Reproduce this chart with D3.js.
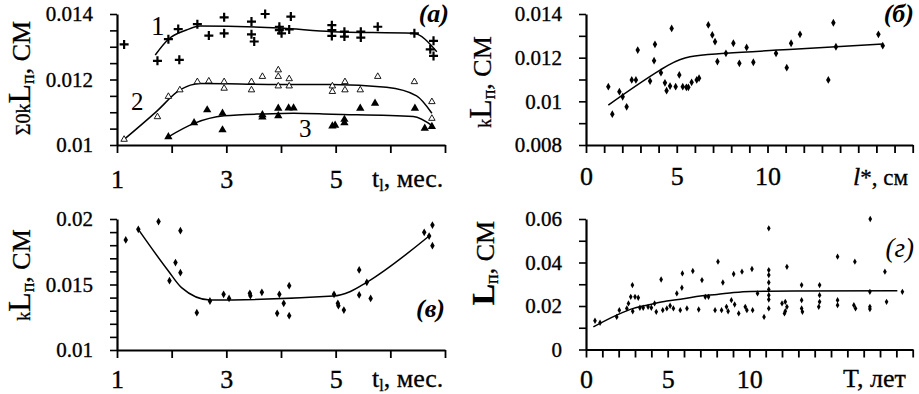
<!DOCTYPE html>
<html><head><meta charset="utf-8">
<script src="https://cdn.jsdelivr.net/npm/d3@7"></script>
<style>
body{margin:0;background:#fff}
svg text{font-family:"Liberation Serif","Times New Roman",serif;fill:#000}
</style>
</head><body>
<svg id="c" width="919" height="394"></svg>
<script>
// ---------- DATA ----------
// Panel (а): three series vs t_l (months)
const aSeries1 = [[1.13,0.01307],[1.74,0.01257],[1.94,0.01323],[2.14,0.01260],[2.12,0.01354],[2.47,0.01369],[2.68,0.01334],[2.96,0.01390],[2.96,0.01341],[3.46,0.01377],[3.46,0.01338],[3.51,0.01316],[3.71,0.01400],[3.97,0.01361],[3.97,0.01351],[4.01,0.01341],[4.18,0.01392],[4.15,0.01353],[4.93,0.01366],[4.93,0.01351],[4.93,0.01333],[5.16,0.01346],[5.16,0.01331],[5.46,0.01346],[5.46,0.01328],[5.77,0.01361],[6.44,0.01341],[6.79,0.01318],[6.73,0.01292],[6.79,0.01272]];
const aFit1 = [[1.70,0.01275],[1.94,0.01323],[2.27,0.01351],[2.52,0.01363],[3.97,0.01357],[4.93,0.01346],[6.42,0.01341],[6.85,0.01285]];
const aSeries2 = [[1.13,0.01017],[1.74,0.01086],[1.94,0.01148],[2.15,0.01168],[2.47,0.01193],[2.68,0.01195],[2.96,0.01193],[2.96,0.01173],[3.46,0.01193],[3.46,0.01168],[3.66,0.01209],[3.95,0.01229],[3.95,0.01209],[3.95,0.01180],[4.15,0.01202],[4.15,0.01180],[4.94,0.01180],[4.94,0.01163],[5.17,0.01193],[5.17,0.01168],[5.45,0.01168],[5.77,0.01209],[6.44,0.01193],[6.76,0.01132],[6.76,0.01081]];
const aFit2 = [[1.13,0.01017],[1.72,0.01102],[2.15,0.01168],[2.52,0.01188],[3.97,0.01185],[4.93,0.01185],[5.93,0.01176],[6.48,0.01150],[6.76,0.01097]];
const aSeries3 = [[1.94,0.01025],[2.41,0.01068],[2.65,0.01107],[2.93,0.01046],[2.93,0.01097],[3.66,0.01092],[3.66,0.01085],[3.95,0.01112],[3.95,0.01089],[4.14,0.01113],[4.23,0.01113],[4.94,0.01058],[4.99,0.01060],[5.16,0.01078],[5.16,0.01068],[5.45,0.01112],[5.72,0.01127],[6.45,0.01112],[6.63,0.01051],[6.76,0.01056]];
const aFit3 = [[1.94,0.01025],[2.41,0.01066],[2.96,0.01089],[3.69,0.01095],[4.23,0.01097],[4.93,0.01094],[6.42,0.01087],[6.79,0.01056]];

// Panel (б): kL_п vs l*
const bPoints = [[1.23,0.01067],[1.45,0.00941],[1.84,0.01044],[2.02,0.01021],[2.24,0.00975],[2.52,0.01098],[2.75,0.01098],[2.85,0.01235],[3.53,0.01093],[3.80,0.01261],[3.75,0.01186],[4.13,0.01131],[4.35,0.01085],[4.44,0.01049],[4.63,0.01070],[4.72,0.01334],[4.94,0.01067],[5.14,0.01121],[5.33,0.01067],[5.53,0.01064],[5.64,0.01064],[5.82,0.01087],[6.10,0.01098],[6.23,0.01106],[6.74,0.01350],[6.96,0.01304],[7.11,0.01273],[7.24,0.01182],[7.71,0.01220],[8.12,0.01266],[8.45,0.01174],[8.85,0.01247],[9.22,0.01179],[10.47,0.01220],[11.06,0.01154],[11.30,0.01266],[11.79,0.01307],[13.35,0.01098],[13.63,0.01360],[13.77,0.01250],[16.11,0.01307],[16.35,0.01255]];
const bFit = [[1.23,0.00983],[4.08,0.01143],[4.54,0.01166],[5.73,0.01204],[7.71,0.01220],[11.42,0.01238],[16.35,0.01263]];

// Panel (в): kL_п vs t_l
const cPoints = [[1.16,0.01840],[1.39,0.01921],[1.76,0.01980],[1.96,0.01529],[2.07,0.01667],[2.16,0.01911],[2.16,0.01590],[2.46,0.01285],[2.70,0.01374],[2.95,0.01425],[3.05,0.01394],[3.43,0.01433],[3.44,0.01415],[3.65,0.01440],[3.97,0.01425],[3.93,0.01280],[4.05,0.01356],[4.15,0.01491],[4.15,0.01262],[4.97,0.01425],[5.04,0.01356],[5.05,0.01338],[5.15,0.01305],[5.43,0.01611],[5.43,0.01420],[5.57,0.01517],[5.64,0.01394],[6.62,0.01898],[6.71,0.01870],[6.77,0.01954],[6.77,0.01796]];
const cFit = [[1.39,0.01921],[1.94,0.01603],[2.18,0.01476],[2.70,0.01382],[4.96,0.01412],[5.26,0.01445],[5.57,0.01517],[6.71,0.01870]];

// Panel (г): L_п vs T
const dPoints = [[0.55,0.0132],[0.86,0.0123],[1.88,0.0150],[2.04,0.0181],[2.5,0.0189],[2.6,0.0212],[2.74,0.0242],[2.84,0.0296],[2.86,0.0176],[3.0,0.0242],[3.2,0.0238],[3.3,0.0192],[3.5,0.0192],[3.8,0.0196],[4.0,0.0192],[4.2,0.0212],[4.3,0.0173],[4.6,0.0322],[4.7,0.0181],[4.95,0.0189],[5.15,0.0201],[5.35,0.0189],[5.56,0.0258],[5.77,0.0181],[5.87,0.0284],[5.9,0.0350],[6.18,0.0189],[6.54,0.0361],[6.9,0.0184],[7.1,0.0319],[7.3,0.0242],[7.5,0.0242],[7.9,0.0181],[8.08,0.0404],[8.3,0.0181],[8.38,0.0308],[8.6,0.0196],[8.7,0.0176],[9.04,0.0347],[8.9,0.0227],[9.1,0.0207],[9.35,0.0166],[9.55,0.0358],[9.75,0.0196],[9.85,0.0181],[10.16,0.0370],[10.2,0.0181],[10.5,0.0258],[10.9,0.0150],[11.19,0.0557],[11.19,0.0365],[11.19,0.0342],[11.19,0.0308],[11.19,0.0276],[11.19,0.0250],[11.19,0.0230],[11.19,0.0189],[12.3,0.0380],[12.0,0.0212],[12.2,0.0219],[12.3,0.0196],[12.2,0.0176],[12.15,0.0166],[13.2,0.0296],[13.2,0.0227],[13.2,0.0189],[13.25,0.0173],[14.3,0.0296],[14.3,0.0250],[14.3,0.0219],[14.25,0.0196],[15.4,0.0427],[15.4,0.0227],[15.4,0.0204],[16.46,0.0404],[16.4,0.0204],[16.5,0.0189],[17.4,0.0600],[17.38,0.0265],[17.38,0.0196],[17.38,0.0186],[18.3,0.0358],[18.4,0.0219],[19.37,0.0265]];
const dFit = [[0.45,0.0104],[1.88,0.0158],[2.9,0.0189],[3.93,0.0207],[4.95,0.0223],[5.97,0.0233],[7.0,0.0246],[8.02,0.0253],[9.04,0.0262],[10.06,0.0267],[12.7,0.0269],[19.06,0.0270]];

// tick values
const tMonthsTicks = [1,2,3,4,5,6,7];
const tMonthsLabels = [1,3,5];
const aYLabels = [0.010,0.012,0.014];
const bXTicks = d3.range(0,19);
const bXLabels = [0,5,10];
const bYTicks = [0.008,0.009,0.010,0.011,0.012,0.013,0.014];
const bYLabels = [0.008,0.010,0.012,0.014];
const cYLabels = [0.010,0.015,0.020];
const dXTicks = d3.range(0,21);
const dXLabels = [0,5,10];
const dYTicks = [0,0.01,0.02,0.03,0.04,0.05,0.06];
const dYLabels = [0,0.02,0.04,0.06];

// ---------- DRAWING ----------
const SERIF = '"Liberation Serif","Times New Roman",serif';
const svg = d3.select("#c");
const fmtY = v => v===0 ? "0" : String(+v.toFixed(4));

function axes(x, y, o) {
  const g = svg.append("g");
  const yAx = d3.axisLeft(y).tickValues(o.yTicks).tickSize(7).tickSizeOuter(0)
    .tickFormat(v => o.yLabels.some(l=>Math.abs(l-v)<1e-9) ? fmtY(v) : "");
  const gy = g.append("g").attr("transform",`translate(${x.range()[0]},0)`).call(yAx);
  gy.attr("font-family",SERIF);
  gy.select(".domain").attr("stroke-width",2.2);
  gy.selectAll(".tick line").attr("stroke-width",1.6);
  gy.selectAll(".tick text").attr("x",-o.yLabelGap).attr("font-size",21)
    .attr("stroke","#000").attr("stroke-width",0.35);
  const xAx = d3.axisBottom(x).tickValues(o.xTicks).tickSize(8).tickSizeOuter(0)
    .tickFormat(v => o.xLabels.includes(v) ? String(v) : "");
  const gx = g.append("g").attr("transform",`translate(0,${y.range()[0]})`).call(xAx);
  gx.attr("font-family",SERIF);
  gx.select(".domain").attr("stroke-width",2.2);
  gx.selectAll(".tick line").attr("stroke-width",1.8);
  gx.selectAll(".tick text").attr("y",o.xLabelGap).attr("dy","0").attr("font-size",26)
    .attr("stroke","#000").attr("stroke-width",0.35);
  g.selectAll("path.domain").attr("stroke","#000");
}

function fit(x, y, data) {
  svg.append("path").datum(data)
    .attr("fill","none").attr("stroke","#000").attr("stroke-width",1.5)
    .attr("d", d3.line().x(d=>x(d[0])).y(d=>y(d[1])).curve(d3.curveMonotoneX));
}
function dots(x, y, data, r) {
  svg.append("g").selectAll("path").data(data).join("path")
    .attr("transform", d=>`translate(${x(d[0])},${y(d[1])})`)
    .attr("d", d3.symbol(d3.symbolDiamond, r*r*2.4))
    .attr("fill","#000");
}
function label(xp, yp, txt, size, bold, italic, anchor) {
  svg.append("text").attr("x",xp).attr("y",yp).attr("font-size",size)
    .attr("text-anchor",anchor||"start")
    .attr("font-weight",bold?"bold":null).attr("font-style",italic?"italic":null).text(txt);
}

// Panel а
{
  const x = d3.scaleLinear().domain([1,7]).range([117,445]);
  const y = d3.scaleLinear().domain([0.010,0.014]).range([145,14]);
  axes(x,y,{yTicks:d3.range(0,9).map(i=>+(0.010+i*0.0005).toFixed(4)), yLabels:aYLabels, yLabelGap:24,
            xTicks:tMonthsTicks, xLabels:tMonthsLabels, xLabelGap:43});
  fit(x,y,aFit1); fit(x,y,aFit2); fit(x,y,aFit3);
  svg.append("g").selectAll("path").data(aSeries1).join("path")
    .attr("d", d=>{const cx=x(d[0]), cy=y(d[1]); return `M${cx-4.5},${cy}H${cx+4.5}M${cx},${cy-4.5}V${cy+4.5}`;})
    .attr("stroke","#000").attr("stroke-width",2.2);
  svg.append("g").selectAll("path").data(aSeries2).join("path")
    .attr("transform", d=>`translate(${x(d[0])},${y(d[1])})`)
    .attr("d", d3.symbol(d3.symbolTriangle, 18)).attr("fill","#fff").attr("stroke","#000").attr("stroke-width",0.9);
  svg.append("g").selectAll("path").data(aSeries3).join("path")
    .attr("transform", d=>`translate(${x(d[0])},${y(d[1])})`)
    .attr("d", d3.symbol(d3.symbolTriangle, 30)).attr("fill","#000");
  label(151,35,"1",27); label(131,110,"2",25); label(299,137,"3",25);
  label(449,22,"(а)",26,true,true,"end");
}

// Panel б
{
  const x = d3.scaleLinear().domain([0,18]).range([586,912.7]);
  const y = d3.scaleLinear().domain([0.008,0.014]).range([145,14]);
  axes(x,y,{yTicks:bYTicks, yLabels:bYLabels, yLabelGap:24, xTicks:bXTicks, xLabels:bXLabels, xLabelGap:40});
  fit(x,y,bFit);
  dots(x,y,bPoints,2.7);
  label(914,22,"(б)",26,true,true,"end");
}

// Panel в
{
  const x = d3.scaleLinear().domain([1,7]).range([117,445]);
  const y = d3.scaleLinear().domain([0.010,0.020]).range([350,219]);
  axes(x,y,{yTicks:d3.range(0,11).map(i=>+(0.010+i*0.001).toFixed(3)), yLabels:cYLabels, yLabelGap:24,
            xTicks:tMonthsTicks, xLabels:tMonthsLabels, xLabelGap:38});
  fit(x,y,cFit);
  dots(x,y,cPoints,2.7);
  label(445,317,"(в)",26,true,true,"end");
}

// Panel г
{
  const x = d3.scaleLinear().domain([0,20]).range([586,912.7]);
  const y = d3.scaleLinear().domain([0,0.06]).range([349.5,219]);
  axes(x,y,{yTicks:dYTicks, yLabels:dYLabels, yLabelGap:24, xTicks:dXTicks, xLabels:dXLabels, xLabelGap:38});
  fit(x,y,dFit);
  dots(x,y,dPoints,2.2);
  label(914,257,"(г)",27,false,true,"end");
}

// Axis titles
function xTitle(xp, yp, parts) {
  const t = svg.append("text").attr("x",xp).attr("y",yp).attr("font-size",26)
    .attr("stroke","#000").attr("stroke-width",0.3);
  parts.forEach(p => t.append("tspan").attr("font-size",p.s||26).attr("dy",p.dy||0)
     .attr("font-style",p.i?"italic":null).text(p.t));
}
xTitle(372,187,[{t:"t"},{t:"l",s:16,dy:4},{t:", мес.",dy:-4}]);
xTitle(372,387,[{t:"t"},{t:"l",s:16,dy:4},{t:", мес.",dy:-4}]);
xTitle(853,185,[{t:"l",i:true},{t:"*, см",s:23}]);
xTitle(843,387,[{t:"T, лет"}]);

function yTitle(xp, yp, parts) {
  const t = svg.append("text").attr("transform",`translate(${xp},${yp}) rotate(-90)`)
    .attr("text-anchor","middle").attr("stroke","#000").attr("stroke-width",0.3);
  parts.forEach(p => t.append("tspan").attr("font-size",p.s).attr("dy",p.dy||0)
     .attr("font-weight",p.b?"bold":null).text(p.t));
}
yTitle(30,78,[{t:"Σ0k",s:20},{t:"L",s:32},{t:"п",s:18,dy:4},{t:", СМ",s:26,dy:-4}]);
yTitle(491,82,[{t:"k",s:18},{t:"L",s:32},{t:"п",s:18,dy:4},{t:", СМ",s:26,dy:-4}]);
yTitle(30,275,[{t:"k",s:18},{t:"L",s:32},{t:"п",s:18,dy:4},{t:", СМ",s:26,dy:-4}]);
yTitle(494,263,[{t:"L",s:32,b:true},{t:"п",s:18,dy:4},{t:", СМ",s:26,dy:-4}]);
</script>
</body></html>
